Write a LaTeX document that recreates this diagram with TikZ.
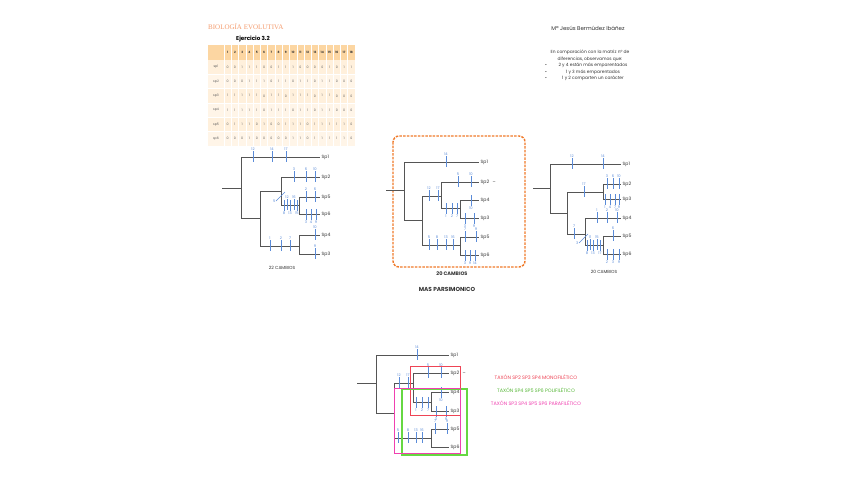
\documentclass[tikz,border=0pt]{standalone}
\usepackage{fontspec}
\setmainfont{Poppins}
\newfontfamily\titlefont{Liberation Serif}
\definecolor{brc}{HTML}{555555}
\definecolor{tkc}{HTML}{5A8BD8}
\definecolor{orng}{HTML}{F07A2A}
\definecolor{ttl}{HTML}{F59C6E}
\definecolor{hdr}{HTML}{FCD6A2}
\definecolor{rowA}{HTML}{FFF0DC}
\definecolor{rowB}{HTML}{FFF5E8}
\definecolor{redb}{HTML}{EE4455}
\definecolor{grnb}{HTML}{66D842}
\definecolor{pnkb}{HTML}{F040B0}
\tikzset{
  br/.style={draw=brc, line width=0.8pt},
  tk/.style={draw=tkc, line width=0.55pt},
  tlab/.style={text=tkc, font=\fontsize{3.6}{4}\selectfont, inner sep=0.4pt},
  leaf/.style={anchor=west, font=\fontsize{4.6}{5}\selectfont, text=black!80, inner sep=1.5pt},
  small/.style={font=\fontsize{4.4}{5}\selectfont, text=black!80, inner sep=0.5pt},
  cell/.style={font=\fontsize{3.2}{4}\selectfont, text=black!65, inner sep=0pt},
  bx/.style={line width=0.9pt}
}
\newcommand\tkA[3]{\draw[tk] (#1,#2-6) -- (#1,#2+5) node[pos=0,tlab,anchor=south]{#3};}
\newcommand\tkB[3]{\draw[tk] (#1,#2-5) -- (#1,#2+6) node[pos=1,tlab,anchor=north]{#3};}
\begin{document}
\begin{tikzpicture}[x=1pt,y=-1pt]
\useasboundingbox[fill=white] (0,0) rectangle (848,477);

% ---------- header texts ----------
\node[anchor=west, text=ttl, font=\titlefont\fontsize{7}{8}\selectfont, inner sep=0pt] (title) at (208,27) {BIOLOGÍA EVOLUTIVA};
\node[font=\bfseries\fontsize{5.6}{6}\selectfont, inner sep=0pt] (ej) at (253,39) {Ejercicio 3.2};
\node[small, font=\fontsize{5.5}{6}\selectfont] (author) at (588,28) {Mª Jesús Bermúdez Ibáñez};
\node[small] (p1) at (590,52) {En comparación con la matriz nº de};
\node[small] (p2) at (590,59) {diferencias, observamos que:};
\node[small] (b1) at (593,65) {2 y 4 están más emparentados};
\node[small] (b2) at (593,72) {1 y 3 más emparentados};
\node[small] (b3) at (593,78) {1 y 2 comparten un carácter};
\foreach \yy in {65,72,78} \node[small] at (546,\yy) {•};

% ---------- table ----------
\fill[hdr] (208,45) rectangle (355,60);
\foreach \r in {1,...,6} {
  \pgfmathsetmacro\ya{60+(\r-1)*14.33}
  \pgfmathsetmacro\yb{60+\r*14.33}
  \ifodd\r \fill[rowA] (208,\ya) rectangle (355,\yb); \else \fill[rowB] (208,\ya) rectangle (355,\yb); \fi
}
\foreach \c in {0,...,18} \draw[white, line width=0.5pt] ({224+\c*7.278},45) -- ({224+\c*7.278},146);
\foreach \r in {1,...,5} \draw[white, line width=0.5pt] (208,{60+\r*14.33}) -- (355,{60+\r*14.33});
\foreach \c in {1,...,18} \node[cell, text=black!80, font=\bfseries\fontsize{3}{4}\selectfont] at ({224+(\c-0.5)*7.278},52.5) {\c};
\foreach \r/\vals in {1/{0,0,1,1,1,0,0,1,1,1,0,0,0,0,1,0,1,1},
                      2/{0,0,0,1,1,1,0,1,1,0,1,1,0,1,1,0,0,0},
                      3/{1,1,1,1,1,0,1,1,0,1,1,1,0,1,1,0,0,0},
                      4/{1,1,1,1,1,0,1,1,1,0,1,1,0,1,1,0,0,0},
                      5/{0,1,1,1,0,1,0,0,1,1,1,0,1,1,1,1,1,0},
                      6/{0,0,0,1,0,0,0,0,0,1,1,0,1,1,1,1,1,0}} {
  \node[cell] at (216,{60+(\r-0.5)*14.33}) {sp\r};
  \foreach \v [count=\c] in \vals
    \node[cell] at ({224+(\c-0.5)*7.278},{60+(\r-0.5)*14.33}) {\v};
}

% ---------- tree 1 ----------
\coordinate (A0) at (222,188);
\coordinate (A1) at (241,188);
\coordinate (A2) at (260,218);
\coordinate (A3) at (281,191);
\coordinate (A4) at (299,205);
\coordinate (A5) at (299,246);
\node[leaf] (Asp1) at (320,157) {Sp1};
\node[leaf] (Asp2) at (320,177) {Sp2};
\node[leaf] (Asp5) at (320,197) {Sp5};
\node[leaf] (Asp6) at (320,214) {Sp6};
\node[leaf] (Asp4) at (320,235) {Sp4};
\node[leaf] (Asp3) at (320,254) {Sp3};
\draw[br] (A0) -- (A1) (A1) |- (Asp1.west) (A1) |- (A2) (A2) |- (A3) (A3) |- (Asp2.west)
  (A3) |- (A4) (A4) |- (Asp5.west) (A4) |- (Asp6.west) (A2) |- (A5) (A5) |- (Asp4.west) (A5) |- (Asp3.west);
\tkA{253}{157}{12} \tkA{272}{157}{14} \tkA{286}{157}{17}
\tkA{294}{177}{3} \tkA{306}{177}{6} \tkA{315}{177}{10}
\tkB{284}{205}{8} \tkA{287}{205}{12} \tkB{290}{205}{13} \tkA{294}{205}{16} \tkB{297}{205}{15}
\draw[tk] (276,201) -- (285,192) node[pos=0,tlab,anchor=east]{5};
\tkA{306}{197}{2} \tkA{315}{197}{6}
\tkB{306}{214}{3} \tkB{311}{214}{4} \tkB{316}{214}{9}
\tkA{270}{246}{1} \tkA{281}{246}{2} \tkA{290}{246}{7}
\tkA{315}{235}{10}
\tkA{315}{254}{9}
\node[small] (cA) at (282,268) {22 CAMBIOS};

% ---------- tree 2 ----------
\draw[orng, line width=1.4pt, dash pattern=on 2.5pt off 1.2pt, rounded corners=6pt] (393,136) rectangle (525,267);
\coordinate (B0) at (386,190);
\coordinate (B1) at (404,190);
\coordinate (B2) at (422,220);
\coordinate (B3) at (441,196);
\coordinate (B4) at (460,208);
\coordinate (B5) at (460,245);
\node[leaf] (Bsp1) at (479,162) {Sp1};
\node[leaf] (Bsp2) at (479,182) {Sp2};
\node[leaf] (Bsp4) at (479,200) {Sp4};
\node[leaf] (Bsp3) at (479,218) {Sp3};
\node[leaf] (Bsp5) at (479,237) {Sp5};
\node[leaf] (Bsp6) at (479,255) {Sp6};
\node[leaf] (Bdash) at (491,183) {–};
\draw[br] (B0) -- (B1) (B1) |- (Bsp1.west) (B1) |- (B2) (B2) |- (B3) (B3) |- (Bsp2.west)
  (B3) |- (B4) (B4) |- (Bsp4.west) (B4) |- (Bsp3.west) (B2) |- (B5) (B5) |- (Bsp5.west) (B5) |- (Bsp6.west);
\tkA{446}{162}{14}
\tkA{429}{196}{12} \tkA{438}{196}{17}
\tkA{458}{182}{5} \tkA{471}{182}{10}
\tkB{446}{208}{1} \tkB{452}{208}{2} \tkB{457}{208}{7}
\tkB{471}{200}{10}
\tkB{465}{218}{3} \tkB{474}{218}{9}
\tkA{429}{245}{5} \tkA{437}{245}{8} \tkA{446}{245}{13} \tkA{453}{245}{16}
\tkA{465}{237}{7} \tkA{476}{237}{9}
\tkB{465}{255}{3} \tkB{470}{255}{9} \tkB{475}{255}{14}
\node[small, font=\bfseries\fontsize{5}{6}\selectfont] (cB) at (452,274) {20 CAMBIOS};
\node[small, font=\bfseries\fontsize{5.8}{6}\selectfont] (mp) at (447,289) {MAS PARSIMONICO};

% ---------- tree 3 ----------
\coordinate (C0) at (533,188);
\coordinate (C1) at (550,188);
\coordinate (C2) at (567,213);
\coordinate (C3) at (603,192);
\coordinate (C4) at (585,234);
\coordinate (C5) at (603,245);
\node[leaf] (Csp1) at (621,164) {Sp1};
\node[leaf] (Csp2) at (621,184) {Sp2};
\node[leaf] (Csp3) at (621,199) {Sp3};
\node[leaf] (Csp4) at (621,218) {Sp4};
\node[leaf] (Csp5) at (621,236) {Sp5};
\node[leaf] (Csp6) at (621,254) {Sp6};
\draw[br] (C0) -- (C1) (C1) |- (Csp1.west) (C1) |- (C2) (C2) |- (C3) (C3) |- (Csp2.west) (C3) |- (Csp3.west)
  (C2) |- (C4) (C4) |- (Csp4.west) (C4) |- (C5) (C5) |- (Csp5.west) (C5) |- (Csp6.west);
\tkA{572}{164}{12} \tkA{603}{164}{14}
\tkA{584}{192}{17}
\tkA{607}{184}{3} \tkA{613}{184}{6} \tkA{619}{184}{10}
\tkB{605}{199}{1} \tkB{610}{199}{4} \tkB{615}{199}{7} \tkB{619}{199}{9}
\tkA{574}{234}{7}
\draw[tk] (579,243) -- (588,234) node[pos=0,tlab,anchor=east]{3};
\tkA{597}{218}{1} \tkA{607}{218}{2} \tkA{617}{218}{10}
\tkB{587}{245}{8} \tkA{590}{245}{11} \tkB{593}{245}{13} \tkA{597}{245}{15} \tkB{600}{245}{17}
\tkA{613}{236}{6}
\tkB{607}{254}{2} \tkB{613}{254}{3} \tkB{619}{254}{9}
\node[small] (cC) at (604,272) {20 CAMBIOS};

% ---------- tree 4 ----------
\coordinate (D0) at (357,383);
\coordinate (D1) at (376,383);
\coordinate (D2) at (394,413);
\coordinate (D3) at (413,383);
\coordinate (D4) at (431,402);
\coordinate (D5) at (431,438);
\node[leaf] (Dsp1) at (449,355) {Sp1};
\node[leaf] (Dsp2) at (449,373) {Sp2};
\node[leaf] (Dsp4) at (449,392) {Sp4};
\node[leaf] (Dsp3) at (449,411) {Sp3};
\node[leaf] (Dsp5) at (449,429) {Sp5};
\node[leaf] (Dsp6) at (449,447) {Sp6};
\node[leaf] (Ddash) at (461,374) {–};
\draw[br] (D0) -- (D1) (D1) |- (Dsp1.west) (D1) |- (D2) (D2) |- (D3) (D3) |- (Dsp2.west)
  (D3) |- (D4) (D4) |- (Dsp4.west) (D4) |- (Dsp3.west) (D2) |- (D5) (D5) |- (Dsp5.west) (D5) |- (Dsp6.west);
\tkA{417}{355}{14}
\tkA{399}{383}{12} \tkA{408}{383}{17}
\tkA{428}{373}{5} \tkA{441}{373}{10}
\tkB{416}{402}{1} \tkB{422}{402}{2} \tkB{428}{402}{7}
\tkB{441}{392}{10}
\tkB{436}{411}{3} \tkB{446}{411}{9}
\tkA{398}{438}{5} \tkA{408}{438}{8} \tkA{416}{438}{13} \tkA{422}{438}{16}
\tkA{435}{429}{7} \tkA{447}{429}{9}
\draw[bx, draw=redb] (410,366) rectangle (460,415);
\draw[bx, line width=1.05pt, draw=grnb] (402,389) -- (467,389) -- (467,455) -- (402,455) -- cycle;
\draw[bx, draw=pnkb] (394,388) rectangle (460,453);
\node[small, text=redb, font=\fontsize{4.9}{5}\selectfont] (l1) at (536,377) {TAXÓN SP2 SP3 SP4 MONOFILÉTICO};
\node[small, text=grnb!85!black, font=\fontsize{4.9}{5}\selectfont] (l2) at (536,390) {TAXÓN SP4 SP5 SP6 POLIFILÉTICO};
\node[small, text=pnkb, font=\fontsize{4.9}{5}\selectfont] (l3) at (536,403) {TAXÓN SP3 SP4 SP5 SP6 PARAFILÉTICO};
\end{tikzpicture}
\end{document}
